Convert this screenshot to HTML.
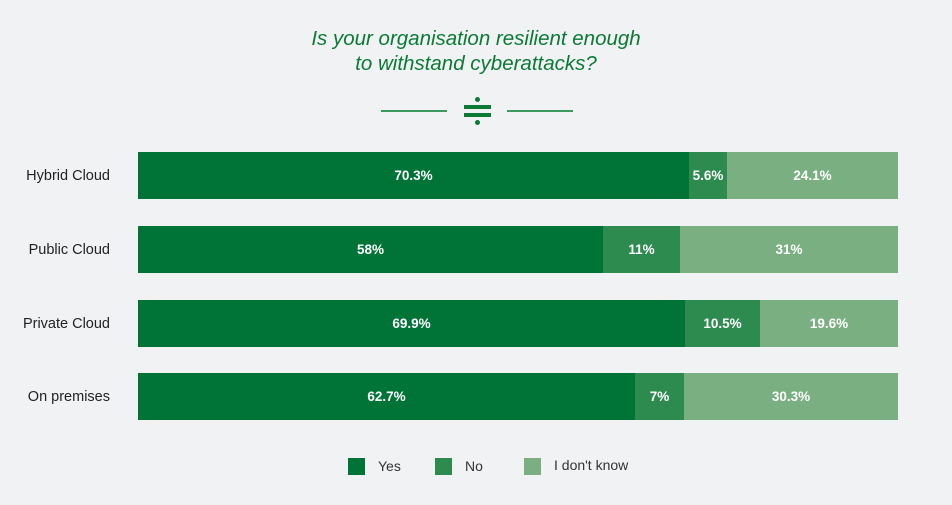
<!DOCTYPE html><html><head><style>
body{margin:0;width:952px;height:505px;background:#f1f2f4;font-family:"Liberation Sans",sans-serif;position:relative;overflow:hidden}
.a{position:absolute}
.t{position:absolute;left:0;width:952px;text-align:center;color:#0a7a35;font-style:italic;font-size:20.5px}
.lbl{position:absolute;left:0;width:110px;text-align:right;font-size:14.5px;color:#222}
.s{position:absolute;height:47px;color:#fff;font-weight:bold;font-size:13.5px;display:flex;align-items:center;justify-content:center}
.y{background:#007336}.n{background:#2e8b50}.k{background:#7aaf82}
.lg{position:absolute;top:458px;width:17px;height:17px}
.lt{position:absolute;top:458px;font-size:14px;color:#333}
</style></head><body>
<div class="t" style="top:27px">Is your organisation resilient enough</div>
<div class="t" style="top:52px">to withstand cyberattacks?</div>
<div class="a" style="left:381px;top:110px;width:66px;height:2px;background:#3d9a5e"></div>
<div class="a" style="left:507px;top:110px;width:66px;height:2px;background:#3d9a5e"></div>
<div class="a" style="left:464px;top:105px;width:27px;height:4px;background:#0a7a35"></div>
<div class="a" style="left:464px;top:113px;width:27px;height:4px;background:#0a7a35"></div>
<div class="a" style="left:475px;top:97px;width:5px;height:5px;border-radius:50%;background:#0a7a35"></div>
<div class="a" style="left:475px;top:120px;width:5px;height:5px;border-radius:50%;background:#0a7a35"></div>

<div class="lbl" style="top:168px">Hybrid Cloud</div>
<div class="s y" style="top:152px;left:138px;width:551px">70.3%</div>
<div class="s n" style="top:152px;left:689px;width:38px">5.6%</div>
<div class="s k" style="top:152px;left:727px;width:171px">24.1%</div>

<div class="lbl" style="top:242px">Public Cloud</div>
<div class="s y" style="top:226px;left:138px;width:465px">58%</div>
<div class="s n" style="top:226px;left:603px;width:77px">11%</div>
<div class="s k" style="top:226px;left:680px;width:218px">31%</div>

<div class="lbl" style="top:316px">Private Cloud</div>
<div class="s y" style="top:300px;left:138px;width:547px">69.9%</div>
<div class="s n" style="top:300px;left:685px;width:75px">10.5%</div>
<div class="s k" style="top:300px;left:760px;width:138px">19.6%</div>

<div class="lbl" style="top:389px">On premises</div>
<div class="s y" style="top:373px;left:138px;width:497px">62.7%</div>
<div class="s n" style="top:373px;left:635px;width:49px">7%</div>
<div class="s k" style="top:373px;left:684px;width:214px">30.3%</div>

<div class="lg y" style="left:348px"></div><div class="lt" style="left:378px">Yes</div>
<div class="lg n" style="left:435px"></div><div class="lt" style="left:465px">No</div>
<div class="lg k" style="left:524px"></div><div class="lt" style="left:554px;top:457px">I don't know</div>
</body></html>
